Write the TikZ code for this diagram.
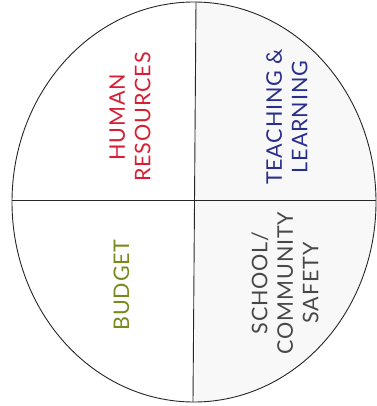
\documentclass[tikz,border=0pt]{standalone}
\usepackage{fontspec}
\setmainfont[LetterSpace=4]{Lato}
\usepackage{xcolor}
\usepackage{tikz}
\definecolor{qd-red}{RGB}{214, 31, 52}
\definecolor{qd-blue}{RGB}{40, 46, 140}
\definecolor{qd-olive}{RGB}{118, 138, 30}
\definecolor{qd-gray}{RGB}{72, 72, 72}
\definecolor{qd-shade}{RGB}{249, 248, 248}

\begin{document}
\begin{tikzpicture}[x=1pt, y=-1pt,
    sector/.style={rotate=90, align=center, inner sep=0pt, font=\fontsize{21.5}{25.5}\selectfont}]
    \useasboundingbox (0,0) rectangle (376,406);
    \coordinate (c) at (194,202);
    \coordinate (top) at (196,2);
    \coordinate (bot) at (193,402);
    \coordinate (lft) at (12,200);
    \coordinate (rgt) at (376,200);

    % faint shading of the right half
    \begin{scope}
        \clip (c) ellipse [x radius=182pt, y radius=200pt];
        \fill[qd-shade] (195,0) rectangle (376,406);
    \end{scope}

    \draw[line width=0.9pt, color=black!85] (c) ellipse [x radius=182pt, y radius=200pt];
    \draw[line width=0.9pt, color=black!85] (top) -- (bot);
    \draw[line width=0.9pt, color=black!85] (lft) -- (rgt);

    \node[sector, text=qd-red] (hr) at (130,117) {HUMAN\\RESOURCES};
    \node[sector, text=qd-blue] (tl) at (287,117) {TEACHING \&\\LEARNING};
    \node[sector, text=qd-olive] (bud) at (121.5,285) {BUDGET};
    \node[sector, text=qd-gray] (safe) at (285,283) {SCHOOL/\\COMMUNITY\\SAFETY};
\end{tikzpicture}
\end{document}
